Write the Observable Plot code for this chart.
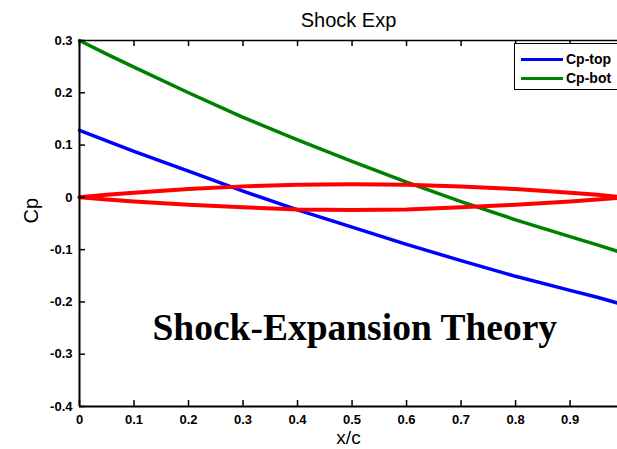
<!DOCTYPE html>
<html>
<head>
<meta charset="utf-8">
<script src="https://cdn.jsdelivr.net/npm/d3@7"></script>
<script src="https://cdn.jsdelivr.net/npm/@observablehq/plot@0.6"></script>
<style>
  html, body { margin: 0; padding: 0; background: #fff; }
  #wrap { position: relative; width: 617px; height: 449px; overflow: hidden; font-family: "Liberation Sans", Arial, Helvetica, sans-serif; }
  #legend { position: absolute; left: 514px; top: 43px; width: 110px; height: 47px; border: 1.5px solid #000; background: #fff; box-sizing: border-box; }
  .row { position: absolute; left: 6px; height: 16px; display: flex; align-items: center; }
  .sw { width: 42px; height: 3px; margin-right: 3px; }
  .lab { font-size: 14px; font-weight: bold; color: #000; }
</style>
</head>
<body>
<div id="wrap"></div>
<script>
// Data
const xc = [0, 0.05, 0.1, 0.2, 0.3, 0.4, 0.5, 0.6, 0.7, 0.8, 0.9, 0.95, 0.987];
const cpTop = [0.128, 0.108, 0.088, 0.050, 0.012, -0.024, -0.057, -0.090, -0.121, -0.151, -0.178, -0.191, -0.202];
const cpBot = [0.300, 0.274, 0.249, 0.200, 0.153, 0.110, 0.069, 0.029, -0.008, -0.043, -0.075, -0.091, -0.103];
const foilUpper = [0, 0.005, 0.009, 0.016, 0.021, 0.024, 0.025, 0.024, 0.021, 0.016, 0.009, 0.005, 0.001];
const foilLower = [0, -0.004, -0.008, -0.014, -0.019, -0.023, -0.024, -0.023, -0.019, -0.014, -0.008, -0.004, -0.001];

const seriesNames = ["Cp-top", "Cp-bot"];
const seriesColors = ["#0000ff", "#008000"];
const foilColor = "#ff0000";

const xTicks = [0, 0.1, 0.2, 0.3, 0.4, 0.5, 0.6, 0.7, 0.8, 0.9];
const xTickLabels = ["0", "0.1", "0.2", "0.3", "0.4", "0.5", "0.6", "0.7", "0.8", "0.9"];
const yTicks = [0.3, 0.2, 0.1, 0, -0.1, -0.2, -0.3, -0.4];
const yTickLabels = ["0.3", "0.2", "0.1", "0", "-0.1", "-0.2", "-0.3", "-0.4"];

const titleText = "Shock Exp";
const xLabel = "x/c";
const yLabel = "Cp";
const annotation = [{x: 0.505, y: -0.25, text: "Shock-Expansion Theory"}];

const rows = (ys) => xc.map((x, i) => ({x, y: ys[i]}));
const xFmt = new Map(xTicks.map((v, i) => [v, xTickLabels[i]]));
const yFmt = new Map(yTicks.map((v, i) => [v, yTickLabels[i]]));

const W = 617, H = 449, ML = 79, MR = 0, MT = 40, MB = 43;
const frameW = W - ML - MR, frameH = H - MT - MB;

const chart = Plot.plot({
  width: W, height: H,
  marginLeft: ML, marginRight: MR, marginTop: MT, marginBottom: MB,
  x: {domain: [0, 0.987], axis: null},
  y: {domain: [-0.4, 0.3], axis: null},
  style: {fontFamily: "'Liberation Sans', Arial, Helvetica, sans-serif", background: "#fff", color: "#000"},
  marks: [
    Plot.line(rows(cpTop), {x: "x", y: "y", stroke: seriesColors[0], strokeWidth: 3.5}),
    Plot.line(rows(cpBot), {x: "x", y: "y", stroke: seriesColors[1], strokeWidth: 3.5}),
    Plot.line(rows(foilUpper), {x: "x", y: "y", stroke: foilColor, strokeWidth: 4}),
    Plot.line(rows(foilLower), {x: "x", y: "y", stroke: foilColor, strokeWidth: 4}),
    // axis box lines (left, bottom, top)
    Plot.ruleX([0], {stroke: "#000", strokeWidth: 2}),
    Plot.ruleY([-0.4], {stroke: "#000", strokeWidth: 2}),
    Plot.ruleY([0.3], {stroke: "#000", strokeWidth: 1.5}),
    // inward ticks
    Plot.ruleX(xTicks, {x: d => d, insetTop: frameH - 6, stroke: "#000", strokeWidth: 1.5}),
    Plot.ruleX(xTicks, {x: d => d, insetBottom: frameH - 6, stroke: "#000", strokeWidth: 1.5}),
    Plot.ruleY(yTicks, {y: d => d, insetRight: frameW - 6, stroke: "#000", strokeWidth: 1.5}),
    // tick labels
    Plot.axisX(xTicks, {anchor: "bottom", tickSize: 0, tickPadding: 8, fontSize: 13, fontWeight: "bold", tickFormat: d => xFmt.get(d), label: null}),
    Plot.axisY(yTicks, {anchor: "left", tickSize: 0, tickPadding: 7, fontSize: 13, fontWeight: "bold", tickFormat: d => yFmt.get(d), label: null}),
    // title and axis labels
    Plot.text([titleText], {frameAnchor: "top", text: d => d, lineAnchor: "bottom", dy: -14, fontSize: 20}),
    Plot.text([xLabel], {frameAnchor: "bottom", text: d => d, lineAnchor: "middle", dy: 31, fontSize: 19}),
    Plot.text([yLabel], {frameAnchor: "left", text: d => d, rotate: -90, lineAnchor: "middle", dx: -48, fontSize: 20}),
    // annotation
    Plot.text(annotation, {x: "x", y: "y", text: "text", fontFamily: "'Liberation Serif', 'Times New Roman', serif", fontWeight: "bold", fontSize: 37.5, lineAnchor: "middle"})
  ]
});

const wrap = document.getElementById("wrap");
wrap.appendChild(chart);

const legend = document.createElement("div");
legend.id = "legend";
seriesNames.forEach((name, i) => {
  const row = document.createElement("div");
  row.className = "row";
  row.style.top = (i === 0 ? 7 : 26) + "px";
  const sw = document.createElement("div");
  sw.className = "sw";
  sw.style.background = seriesColors[i];
  const lab = document.createElement("span");
  lab.className = "lab";
  lab.textContent = name;
  row.appendChild(sw);
  row.appendChild(lab);
  legend.appendChild(row);
});
wrap.appendChild(legend);
</script>
</body>
</html>
